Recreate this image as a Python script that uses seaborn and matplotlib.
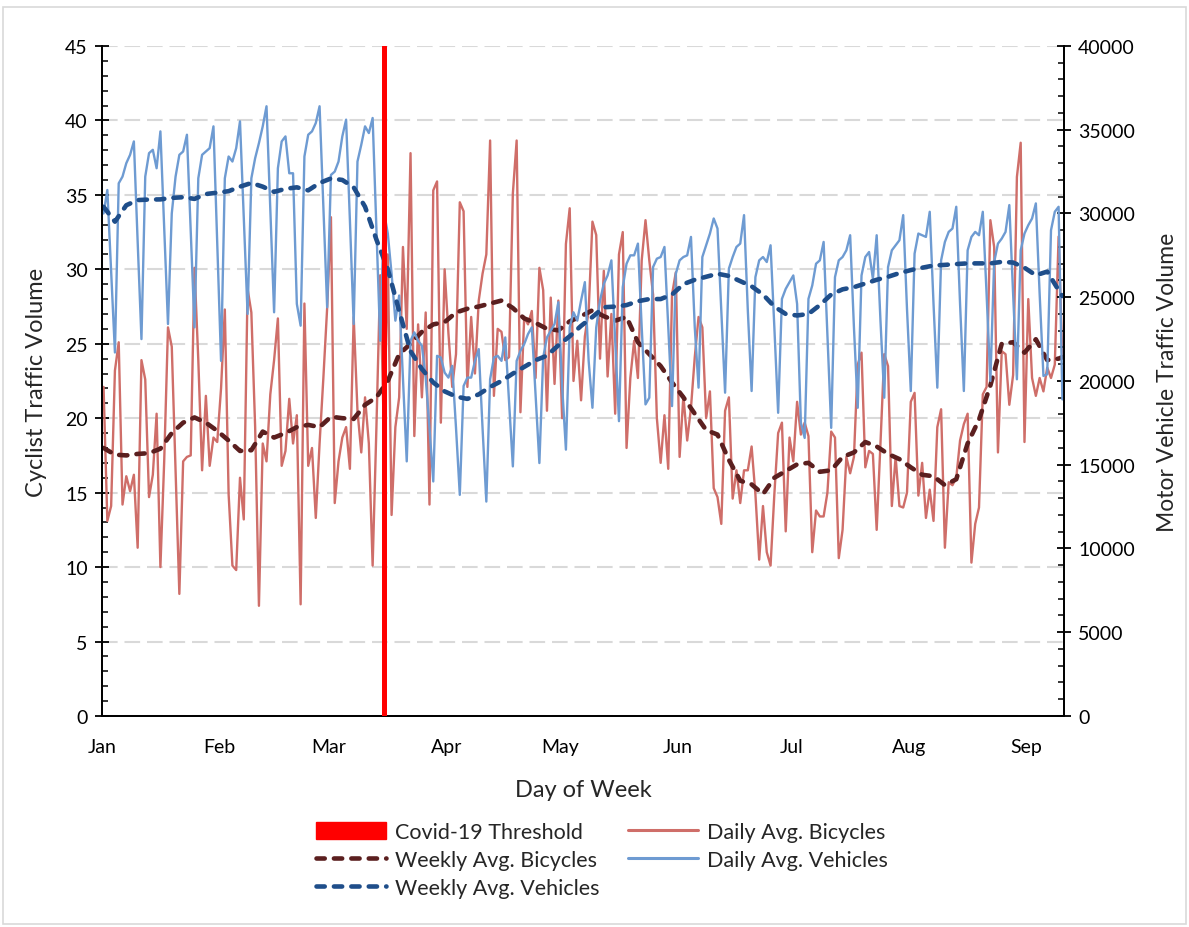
import numpy as np
import pandas as pd
import matplotlib
matplotlib.use("Agg")
import matplotlib.pyplot as plt
import matplotlib.dates as mdates
import matplotlib.patches as mpatches
from matplotlib.lines import Line2D
from matplotlib.ticker import MultipleLocator, FixedLocator
import seaborn as sns

# ---- data -----------------------------------------------------------------
start_date = "2020-01-01"
covid_date = "2020-03-15 12:00"

daily_bicycles = [
    22.1, 13.1, 14.1, 23.2, 25.1, 14.2, 16.1, 15.1, 16.2, 11.3,
    23.9, 22.6, 14.7, 16.2, 20.3, 10.0, 17.1, 26.1, 24.8, 16.5,
    8.2, 17.1, 17.4, 17.5, 30.1, 23.9, 16.5, 21.5, 16.8, 18.7,
    18.4, 22.0, 27.3, 14.9, 10.1, 9.8, 16.0, 13.2, 28.7, 27.1,
    19.4, 7.4, 18.3, 17.1, 21.6, 23.9, 26.7, 16.8, 17.8, 21.3,
    18.3, 20.2, 7.5, 27.7, 16.8, 18.0, 13.3, 18.3, 22.7, 27.4,
    33.5, 14.3, 17.1, 18.7, 19.4, 16.6, 26.8, 20.5, 17.7, 21.4,
    18.3, 10.1, 19.4, 29.6, 18.5, 31.0, 13.5, 19.4, 21.4, 31.5,
    26.0, 37.8, 18.8, 26.3, 21.4, 27.1, 14.2, 35.3, 35.9, 19.7,
    30.0, 25.7, 22.1, 24.3, 34.5, 33.9, 22.1, 26.8, 23.0, 27.9,
    29.7, 31.0, 38.65, 21.5, 26.0, 25.8, 23.9, 24.1, 35.1, 38.65,
    20.4, 26.8, 26.3, 27.2, 22.7, 30.1, 28.6, 20.5, 28.1, 22.3,
    27.9, 20.0, 31.7, 34.1, 22.5, 25.2, 21.2, 25.5, 27.2, 33.2,
    32.3, 24.0, 29.9, 22.8, 27.0, 20.3, 31.0, 32.5, 18.0, 22.7,
    25.2, 22.7, 30.6, 33.3, 30.6, 28.3, 20.0, 17.0, 20.2, 16.6,
    28.3, 29.8, 17.4, 21.5, 18.5, 20.7, 24.1, 26.8, 26.1, 20.0,
    21.8, 15.3, 14.7, 12.9, 20.5, 21.4, 14.6, 16.5, 14.3, 16.5,
    16.5, 18.1, 14.9, 10.5, 14.1, 11.0, 10.1, 14.9, 19.0, 19.7,
    12.4, 18.7, 17.1, 21.1, 18.9, 19.7, 18.8, 11.0, 13.8, 13.4,
    13.4, 15.0, 19.1, 18.7, 10.6, 12.5, 17.4, 16.3, 17.4, 23.6,
    24.4, 16.7, 17.8, 17.6, 12.5, 18.3, 24.3, 23.5, 14.1, 17.4,
    14.1, 14.0, 15.0, 21.1, 21.7, 14.8, 17.0, 13.3, 15.2, 13.1,
    19.4, 20.6, 11.3, 15.7, 15.5, 16.0, 18.5, 19.6, 20.3, 10.3,
    12.9, 14.0, 21.6, 22.1, 33.3, 31.5, 17.7, 24.5, 24.3, 20.9,
    22.9, 36.2, 38.5, 18.4, 28.0, 22.7, 21.5, 22.7, 21.8, 23.4,
    22.7, 23.6, 32.2, 24.0,
]

daily_vehicles = [
    30000, 31400, 26600, 21700, 31800, 32200, 33000, 33500, 34300, 28300,
    22500, 32200, 33600, 33800, 32700, 34900, 29100, 23400, 30000, 32200,
    33500, 33700, 34700, 29000, 23200, 32100, 33500, 33700, 33900, 35200,
    28200, 21200, 32100, 33400, 33100, 33900, 35500, 29800, 24000, 32100,
    33300, 34200, 35200, 36400, 30200, 24100, 32700, 34300, 34600, 32400,
    32400, 24600, 23300, 33400, 34700, 34900, 35400, 36400, 30400, 24400,
    32300, 32500, 33100, 34600, 35600, 29600, 23400, 33100, 34100, 35200,
    34800, 35700, 29100, 22400, 30100, 28800, 26400, 23600, 25100, 20200,
    15200, 22400, 22900, 22400, 22100, 20200, 17200, 14000, 21500, 21400,
    20500, 20200, 20900, 17200, 13200, 19700, 20200, 20200, 21200, 21900,
    17200, 12800, 20100, 21400, 21500, 21200, 22600, 18800, 14900, 21200,
    21800, 22200, 22800, 23200, 19200, 15100, 21400, 22600, 23000, 23400,
    24700, 19700, 15900, 23200, 24100, 23600, 24800, 25900, 21200, 18400,
    23200, 24800, 25800, 26300, 27200, 22400, 17600, 25600, 27000, 27500,
    27500, 28200, 23200, 18600, 19000, 26800, 27300, 27400, 28000, 23200,
    18500, 26400, 27200, 27400, 27500, 28600, 23200, 19600, 27400, 28100,
    28800, 29700, 29100, 24200, 19300, 26700, 27400, 28000, 28200, 29900,
    24200, 19400, 26200, 27200, 27400, 27100, 28100, 23200, 18100, 24900,
    25500, 25900, 26300, 24600, 17500, 16600, 24900, 25700, 27000, 27200,
    28300, 22800, 17200, 26200, 27200, 27400, 27800, 28700, 23200, 18400,
    26300, 27400, 27700, 26100, 28700, 23600, 19000, 26800, 27800, 28100,
    28400, 29900, 24300, 19400, 27600, 28800, 28700, 28600, 30100, 24600,
    19600, 27200, 28300, 28900, 29100, 30400, 24600, 19400, 27800, 28600,
    28900, 28700, 30100, 25200, 20000, 27100, 28200, 28500, 28900, 30500,
    25200, 20100, 27800, 28800, 29300, 29700, 30600, 25200, 20300, 20400,
    29000, 30100, 30400, 18900,
]

# weekly averages, read every third day (day offsets from the start date)
weekly_days = list(range(0, 253, 3)) + [253]

weekly_bicycles = [
    18.0, 17.55, 17.5, 17.6, 17.65, 17.95, 19.0, 19.7, 20.05, 19.7,
    19.15, 18.5, 17.8, 17.85, 19.1, 18.7, 19.0, 19.4, 19.55, 19.4,
    20.1, 20.0, 19.95, 20.9, 21.4, 22.5, 24.3, 25.0, 25.8, 26.3,
    26.45, 27.1, 27.35, 27.5, 27.7, 27.9, 27.4, 26.7, 26.4, 26.0,
    25.9, 26.5, 26.85, 27.25, 26.85, 26.55, 26.8, 25.1, 24.3, 23.5,
    22.4, 21.4, 20.3, 19.2, 18.9, 17.2, 15.8, 15.55, 14.9, 16.0,
    16.45, 16.9, 17.0, 16.4, 16.5, 17.4, 17.7, 18.4, 18.1, 17.6,
    17.25, 16.7, 16.2, 16.1, 15.5, 15.9, 18.3, 19.9, 22.2, 25.0,
    25.1, 24.4, 25.3, 23.9, 24.0, 24.1,
]

weekly_vehicles = [
    30400, 29510, 30490, 30800, 30830, 30840, 30930, 30970, 30870, 31160,
    31240, 31330, 31600, 31820, 31600, 31290, 31470, 31560, 31380, 31820,
    32090, 32000, 31560, 30400, 28440, 26670, 24180, 21780, 20710, 19910,
    19380, 19070, 18930, 19200, 19640, 20000, 20440, 20840, 21240, 21510,
    22130, 22670, 23290, 23820, 24400, 24440, 24530, 24760, 24890, 24890,
    25160, 25780, 26040, 26220, 26400, 26270, 25960, 25650, 25160, 24440,
    24000, 23910, 24000, 24530, 25160, 25470, 25600, 25820, 26040, 26220,
    26440, 26620, 26760, 26890, 26930, 26980, 27020, 27020, 27020, 27110,
    27070, 26760, 26310, 26530, 25420, 25070,
]

# ---- styling --------------------------------------------------------------
sns.set_theme(style="white")
plt.rcParams["font.family"] = ["Lato", "DejaVu Sans"]

c_bike_daily = "#cf6e69"
c_veh_daily = "#6e9bd2"
c_bike_week = "#5b1f1f"
c_veh_week = "#1f4e8a"
grid_col = "#d9d9d9"

days = pd.date_range(start_date, periods=len(daily_bicycles), freq="D") + pd.Timedelta(hours=12)
week_dates = days[weekly_days]
dash = (0, (1.8, 2.0))

fig = plt.figure(figsize=(11.89, 9.28), dpi=100)
ax = fig.add_axes([0.0855, 0.2274, 0.8096, 0.7220])
ax2 = ax.twinx()

sns.lineplot(x=days, y=daily_bicycles, ax=ax, color=c_bike_daily, linewidth=1.7)
sns.lineplot(x=week_dates, y=weekly_bicycles, ax=ax, color=c_bike_week, linewidth=3.3)
ax.lines[-1].set_linestyle(dash)
ax.lines[-1].set_dash_capstyle("round")

sns.lineplot(x=days, y=daily_vehicles, ax=ax2, color=c_veh_daily, linewidth=1.7)
sns.lineplot(x=week_dates, y=weekly_vehicles, ax=ax2, color=c_veh_week, linewidth=3.3)
ax2.lines[-1].set_linestyle(dash)
ax2.lines[-1].set_dash_capstyle("round")

ax2.axvline(pd.Timestamp(covid_date), color="#ff0000", linewidth=3.6, zorder=5)

# ---- axes -----------------------------------------------------------------
ax.set_xlim(pd.Timestamp(start_date), pd.Timestamp(start_date) + pd.Timedelta(days=len(daily_bicycles)))
ax.set_ylim(0, 45)
ax2.set_ylim(0, 40000)

ax.xaxis.set_major_locator(mdates.MonthLocator())
ax.xaxis.set_major_formatter(mdates.DateFormatter("%b"))
weekly_ticks = pd.date_range(start_date, periods=37, freq="7D")
ax.xaxis.set_minor_locator(FixedLocator(mdates.date2num(weekly_ticks)))

ax.yaxis.set_major_locator(MultipleLocator(5))
ax.yaxis.set_minor_locator(MultipleLocator(1))
ax2.yaxis.set_major_locator(MultipleLocator(5000))
ax2.yaxis.set_minor_locator(MultipleLocator(1000))

ax.set_axisbelow(True)
ax.yaxis.grid(True, which="major", color=grid_col, linestyle=(0, (7.5, 3.3)), linewidth=1.5)
ax.xaxis.grid(False)
ax2.grid(False)

for a in (ax, ax2):
    a.spines["top"].set_visible(False)
    for s in ("left", "right", "bottom"):
        a.spines[s].set_color("black")
        a.spines[s].set_linewidth(1.3)
    a.tick_params(which="major", direction="inout", length=10, width=1.3, color="black",
                  labelsize=14, labelcolor="black")
    a.tick_params(which="minor", direction="in", length=4, width=1.1, color="black")

ax.tick_params(axis="x", which="major", pad=11)
ax.tick_params(axis="y", which="major", pad=5)
ax2.tick_params(axis="y", which="major", pad=5)

ax.set_xlabel("Day of Week", fontsize=17, labelpad=17)
ax.set_ylabel("Cyclist Traffic Volume", fontsize=17, labelpad=13)
ax2.set_ylabel("Motor Vehicle Traffic Volume", fontsize=16.5, labelpad=16)

# ---- legend ---------------------------------------------------------------
handles = [
    mpatches.Patch(color="#ff0000", label="Covid-19 Threshold"),
    Line2D([], [], color=c_bike_week, linewidth=3.3, linestyle=dash,
           dash_capstyle="round", label="Weekly Avg. Bicycles"),
    Line2D([], [], color=c_veh_week, linewidth=3.3, linestyle=dash,
           dash_capstyle="round", label="Weekly Avg. Vehicles"),
    Line2D([], [], color=c_bike_daily, linewidth=2.2, label="Daily Avg. Bicycles"),
    Line2D([], [], color=c_veh_daily, linewidth=2.2, label="Daily Avg. Vehicles"),
]
fig.legend(handles=handles, loc="center", bbox_to_anchor=(602 / 1189, 1 - 861 / 928),
           ncol=2, frameon=False, fontsize=15.5, handlelength=3.25, handleheight=0.8,
           handletextpad=0.4, columnspacing=1.35, labelspacing=0.38)

# light frame around the whole figure
fig.patches.append(mpatches.Rectangle((3 / 1189, 3 / 928), 1183 / 1189, 917 / 928,
                                      transform=fig.transFigure, fill=False,
                                      edgecolor=grid_col, linewidth=1.2))

fig.savefig("out.png", dpi=100)
